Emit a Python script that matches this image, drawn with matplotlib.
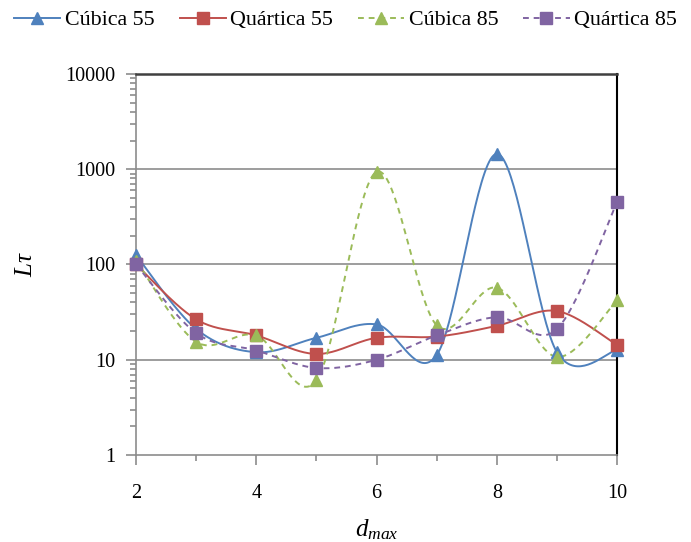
import numpy as np
import matplotlib
matplotlib.use("Agg")
import matplotlib.pyplot as plt
from matplotlib.ticker import LogLocator, NullFormatter, FixedLocator

plt.rcParams['font.family'] = ['Liberation Serif', 'DejaVu Serif']
plt.rcParams['mathtext.fontset'] = 'custom'
plt.rcParams['mathtext.it'] = 'Liberation Serif:italic'
plt.rcParams['mathtext.rm'] = 'Liberation Serif'

dmax = [2, 3, 4, 5, 6, 7, 8, 9, 10]
cubica55 = [125, 21, 12, 17, 23.5, 11.2, 1450, 12, 12.6]
quartica55 = [100, 26.5, 18, 11.5, 17, 17.5, 22.7, 32.5, 14.3]
cubica85 = [110, 15.4, 18, 6.1, 940, 23, 57, 10.7, 42]
quartica85 = [100, 19, 12.5, 8.2, 10, 18, 28, 21, 450]

labels = ["Cúbica 55", "Quártica 55", "Cúbica 85", "Quártica 85"]
colors = ["#4F81BD", "#C0504D", "#9BBB59", "#8064A2"]
markers = ["^", "s", "^", "s"]
styles = ["-", "-", (0, (3, 2.5)), (0, (3, 2.5))]


def smooth(x, y, n=40):
    # excel-like smoothing: catmull-rom in (x, log y) space
    x = np.asarray(x, float)
    ly = np.log10(np.asarray(y, float))
    px = np.concatenate([[x[0]], x, [x[-1]]])
    py = np.concatenate([[ly[0]], ly, [ly[-1]]])
    xs, ys = [], []
    for i in range(1, len(px) - 2):
        p0, p1, p2, p3 = (px[i-1], py[i-1]), (px[i], py[i]), (px[i+1], py[i+1]), (px[i+2], py[i+2])
        c1 = (p1[0] + (p2[0] - p0[0]) / 6, p1[1] + (p2[1] - p0[1]) / 6)
        c2 = (p2[0] - (p3[0] - p1[0]) / 6, p2[1] - (p3[1] - p1[1]) / 6)
        t = np.linspace(0, 1, n)
        bx = (1-t)**3*p1[0] + 3*(1-t)**2*t*c1[0] + 3*(1-t)*t**2*c2[0] + t**3*p2[0]
        by = (1-t)**3*p1[1] + 3*(1-t)**2*t*c1[1] + 3*(1-t)*t**2*c2[1] + t**3*p2[1]
        xs.extend(bx)
        ys.extend(by)
    return np.array(xs), 10 ** np.array(ys)


fig = plt.figure(figsize=(6.91, 5.42), dpi=100)
ax = fig.add_axes([0.197, 0.1605, 0.696, 0.703])
ax.set_yscale('log')
ax.set_ylim(1, 10000)
ax.set_xlim(2, 10)

for v in [10, 100, 1000]:
    ax.axhline(v, color='#8C8C8C', lw=1.2, zorder=1)

series = [cubica55, quartica55, cubica85, quartica85]
handles = []
for ys, lab, c, m, ls in zip(series, labels, colors, markers, styles):
    sx, sy = smooth(dmax, ys)
    ax.plot(sx, sy, color=c, lw=1.4, ls=ls, zorder=3, clip_on=False)
    ax.plot(dmax, ys, ls='none', marker=m, color=c, ms=8, zorder=4, clip_on=False)
    h, = ax.plot([], [], color=c, lw=1.4, ls=ls, marker=m, ms=8, label=lab)
    handles.append(h)

for s in ['left', 'bottom']:
    ax.spines[s].set_color('#8C8C8C')
    ax.spines[s].set_linewidth(1.2)
ax.spines['top'].set_color('#404040')
ax.spines['top'].set_linewidth(1.8)
ax.spines['right'].set_color('black')
ax.spines['right'].set_linewidth(1.5)

ax.xaxis.set_major_locator(FixedLocator([2, 4, 6, 8, 10]))
ax.xaxis.set_minor_locator(FixedLocator([3, 5, 7, 9]))
ax.yaxis.set_minor_locator(LogLocator(base=10, subs=np.arange(2, 10), numticks=20))
ax.yaxis.set_minor_formatter(NullFormatter())
ax.set_yticks([1, 10, 100, 1000, 10000])
ax.set_yticklabels(['1', '10', '100', '1000', '10000'])

ax.tick_params(axis='both', which='major', color='#8C8C8C', labelsize=14.5, length=7, width=1.2)
ax.tick_params(axis='x', which='major', pad=14)
ax.tick_params(axis='y', which='major', pad=8)
ax.tick_params(axis='x', which='minor', color='#8C8C8C', length=4, width=1.2)
ax.tick_params(axis='y', which='minor', color='#8C8C8C', length=4, width=1.2)

ax.set_xlabel(r'$d_{max}$', fontsize=18, labelpad=10)
ax.set_ylabel(r'$L\tau$', fontsize=18, labelpad=20)

fig.legend(handles=handles, loc='center', bbox_to_anchor=(0.5, 0.963), ncol=4,
           frameon=False, fontsize=15.8, handlelength=2.1, columnspacing=1.15,
           handletextpad=0.2)

fig.savefig('out.png', dpi=100)
